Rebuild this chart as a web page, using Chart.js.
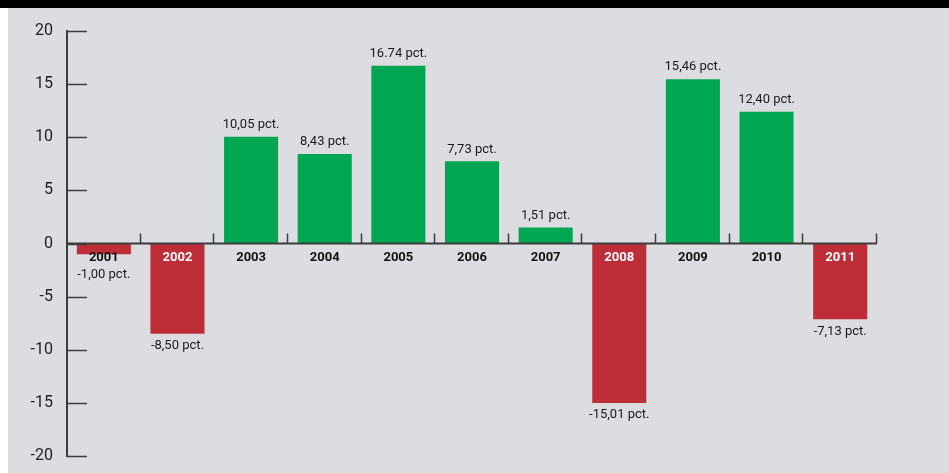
<!DOCTYPE html>
<html>
<head>
<meta charset="utf-8">
<script src="https://cdn.jsdelivr.net/npm/chart.js@4"></script>
<style>
  html, body { margin: 0; padding: 0; background: #ffffff; }
  #wrap { position: relative; width: 949px; height: 473px; }
</style>
</head>
<body>
<div id="wrap"><canvas id="c" width="949" height="473"></canvas></div>
<script>
// Annual return per year
const years = ['2001','2002','2003','2004','2005','2006','2007','2008','2009','2010','2011'];
const returns = [-1.00, -8.50, 10.05, 8.43, 16.74, 7.73, 1.51, -15.01, 15.46, 12.40, -7.13];
const valueLabels = ['-1,00 pct.','-8,50 pct.','10,05 pct.','8,43 pct.','16.74 pct.','7,73 pct.','1,51 pct.','-15,01 pct.','15,46 pct.','12,40 pct.','-7,13 pct.'];
const yTicks = [20, 15, 10, 5, 0, -5, -10, -15, -20];

const GREEN = '#00a651';
const RED = '#bd2e38';
const BG = '#dcdde0';
const AXIS = '#3c3c3e';
const FONT = "Roboto, 'Liberation Sans', sans-serif";

const frame = {
  id: 'frame',
  beforeDraw(chart) {
    const ctx = chart.ctx;
    ctx.save();
    ctx.fillStyle = '#ffffff';
    ctx.fillRect(0, 0, chart.width, chart.height);
    ctx.fillStyle = BG;
    ctx.fillRect(8, 0, chart.width - 8, chart.height);
    ctx.fillStyle = '#000000';
    ctx.fillRect(0, 0, chart.width, 8);
    ctx.restore();
  },
  afterDatasetsDraw(chart) {
    const ctx = chart.ctx;
    const x = chart.scales.x, y = chart.scales.y;
    const area = chart.chartArea;
    const y0 = y.getPixelForValue(0);
    ctx.save();
    ctx.strokeStyle = AXIS;
    // vertical axis
    ctx.lineWidth = 2;
    ctx.beginPath();
    ctx.moveTo(area.left, y.getPixelForValue(20) - 1);
    ctx.lineTo(area.left, y.getPixelForValue(-20) + 1);
    ctx.stroke();
    // rightward ticks on the value axis
    ctx.lineWidth = 1.5;
    yTicks.forEach(v => {
      const py = Math.round(y.getPixelForValue(v)) + 0.5;
      ctx.beginPath();
      ctx.moveTo(area.left, py);
      ctx.lineTo(area.left + 20, py);
      ctx.stroke();
    });
    // zero line with category separators
    const step = (area.right - area.left) / years.length;
    ctx.lineWidth = 2;
    ctx.beginPath();
    ctx.moveTo(area.left, y0);
    ctx.lineTo(area.right, y0);
    ctx.stroke();
    ctx.lineWidth = 1.5;
    for (let i = 1; i <= years.length; i++) {
      const px = Math.round(area.left + step * i) - 0.5;
      ctx.beginPath();
      ctx.moveTo(px, y0);
      ctx.lineTo(px, y0 - 10);
      ctx.stroke();
    }
    // year labels and value labels
    ctx.textAlign = 'center';
    ctx.textBaseline = 'middle';
    const meta = chart.getDatasetMeta(0);
    years.forEach((yr, i) => {
      const bar = meta.data[i];
      const v = returns[i];
      const cx = x.getPixelForValue(i);
      const barBottom = y.getPixelForValue(v);
      const labelY = y0 + 14;
      ctx.font = 'bold 13px ' + FONT;
      ctx.fillStyle = (v < 0 && barBottom > labelY + 8) ? '#ffffff' : '#111111';
      ctx.fillText(yr, cx, labelY);
      ctx.font = '13px ' + FONT;
      ctx.fillStyle = '#1a1a1a';
      let vy;
      if (v >= 0) {
        vy = bar.y - 12;
      } else {
        vy = Math.max(bar.y + 12, y0 + 31);
      }
      ctx.fillText(valueLabels[i], cx, vy);
    });
    ctx.restore();
  }
};

new Chart(document.getElementById('c'), {
  type: 'bar',
  data: {
    labels: years,
    datasets: [{
      data: returns,
      backgroundColor: returns.map(v => v < 0 ? RED : GREEN),
      borderWidth: 0,
      categoryPercentage: 0.734,
      barPercentage: 1
    }]
  },
  options: {
    responsive: false,
    animation: false,
    events: [],
    layout: { padding: { left: 8, right: 72, top: 31, bottom: 17 } },
    plugins: { legend: { display: false }, tooltip: { enabled: false } },
    scales: {
      x: { display: false },
      y: {
        min: -20, max: 20,
        afterFit(scale) { scale.width = 59; },
        afterBuildTicks(scale) { scale.ticks = yTicks.map(v => ({ value: v })); },
        grid: { display: false },
        border: { display: false },
        ticks: {
          padding: 6,
          color: '#1e1e1e',
          font: { family: FONT, size: 16 },
          callback: v => String(v)
        }
      }
    }
  },
  plugins: [frame]
});
</script>
</body>
</html>
